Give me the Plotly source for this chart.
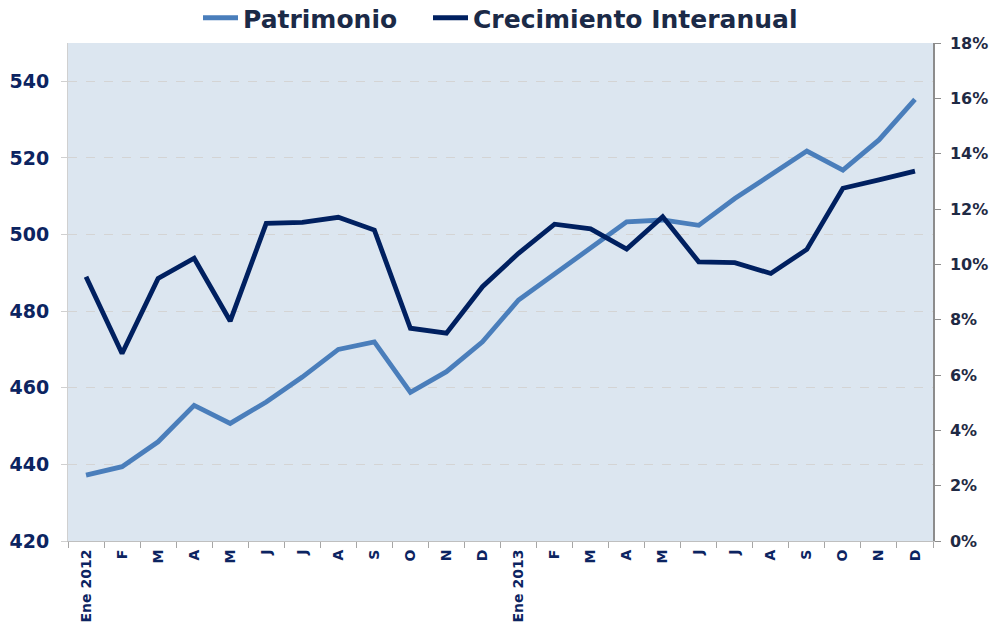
import plotly.graph_objects as go

periods = ["2012-01", "2012-02", "2012-03", "2012-04", "2012-05", "2012-06",
           "2012-07", "2012-08", "2012-09", "2012-10", "2012-11", "2012-12",
           "2013-01", "2013-02", "2013-03", "2013-04", "2013-05", "2013-06",
           "2013-07", "2013-08", "2013-09", "2013-10", "2013-11", "2013-12"]
tick_labels = ["Ene 2012", "F", "M", "A", "M", "J", "J", "A", "S", "O", "N", "D",
               "Ene 2013", "F", "M", "A", "M", "J", "J", "A", "S", "O", "N", "D"]

patrimonio = [437.2, 439.4, 445.9, 455.4, 450.7, 456.3, 462.8, 470.0, 472.0, 458.8, 464.2, 472.0,
              482.9, 489.8, 496.5, 503.3, 503.8, 502.4, 509.4, 515.5, 521.8, 516.8, 524.7, 535.3]
crecimiento = [0.0955, 0.0678, 0.0949, 0.1022, 0.0795, 0.1148, 0.1152, 0.1170, 0.1124, 0.0769, 0.0751, 0.0919,
               0.1040, 0.1145, 0.1128, 0.1055, 0.1172, 0.1009, 0.1006, 0.0967, 0.1054, 0.1275, 0.1305, 0.1337]

navy = "#0c2461"
W, H = 992, 624
fig = go.Figure()
fig.add_trace(go.Scatter(x=periods, y=patrimonio, name="Patrimonio", mode="lines",
                         line=dict(color="#4a7ebb", width=4.8), legend="legend"))
fig.add_trace(go.Scatter(x=periods, y=crecimiento, name="Crecimiento Interanual", mode="lines",
                         line=dict(color="#002060", width=4.8), yaxis="y2", legend="legend2"))

legend_font = dict(family="DejaVu Sans", size=25, color="#1b2a47", weight="bold")
fig.update_layout(
    width=W, height=H,
    margin=dict(l=68, r=59, t=43, b=83, autoexpand=False),
    paper_bgcolor="white",
    plot_bgcolor="#dce6f0",
    showlegend=True,
    legend=dict(orientation="h", x=198 / W, xanchor="left", xref="container",
                y=1 - 18 / H, yanchor="middle", yref="container",
                font=legend_font, itemwidth=35, bgcolor="rgba(0,0,0,0)"),
    legend2=dict(orientation="h", x=428 / W, xanchor="left", xref="container",
                 y=1 - 18 / H, yanchor="middle", yref="container",
                 font=legend_font, itemwidth=35, bgcolor="rgba(0,0,0,0)"),
    xaxis=dict(type="category", tickmode="array", tickvals=periods, ticktext=tick_labels,
               range=[-0.5, len(periods) - 0.5],
               tickangle=-90, tickson="boundaries", ticks="outside", ticklen=6,
               tickcolor="#a6a6a6", showline=True, linecolor="#bfbfbf", linewidth=1,
               ticklabelstandoff=2,
               showgrid=False, tickfont=dict(family="DejaVu Sans", size=14, color=navy, weight="bold")),
    yaxis=dict(range=[420, 550], dtick=20, tick0=420, showgrid=True, gridcolor="#d4d4d4",
               griddash="dash", gridwidth=1, showline=True, linecolor="#d0d0d0", linewidth=1,
               ticks="outside", ticklen=6, tickcolor="#d0d0d0", zeroline=False,
               ticklabelstandoff=8,
               tickfont=dict(family="DejaVu Sans", size=19, color=navy, weight="bold")),
    yaxis2=dict(range=[0, 0.18], dtick=0.02, tickformat=".0%", overlaying="y", side="right",
                showgrid=False, showline=True, linecolor="#8c8c8c", linewidth=1.5,
                ticks="outside", ticklen=6, tickcolor="#8c8c8c", zeroline=False,
                ticklabelstandoff=6,
                tickfont=dict(family="DejaVu Sans", size=16, color="#1f2a44", weight="bold")),
)

fig.write_html("out.html", config={"displayModeBar": False},
               post_script="document.body.style.margin='0';")
